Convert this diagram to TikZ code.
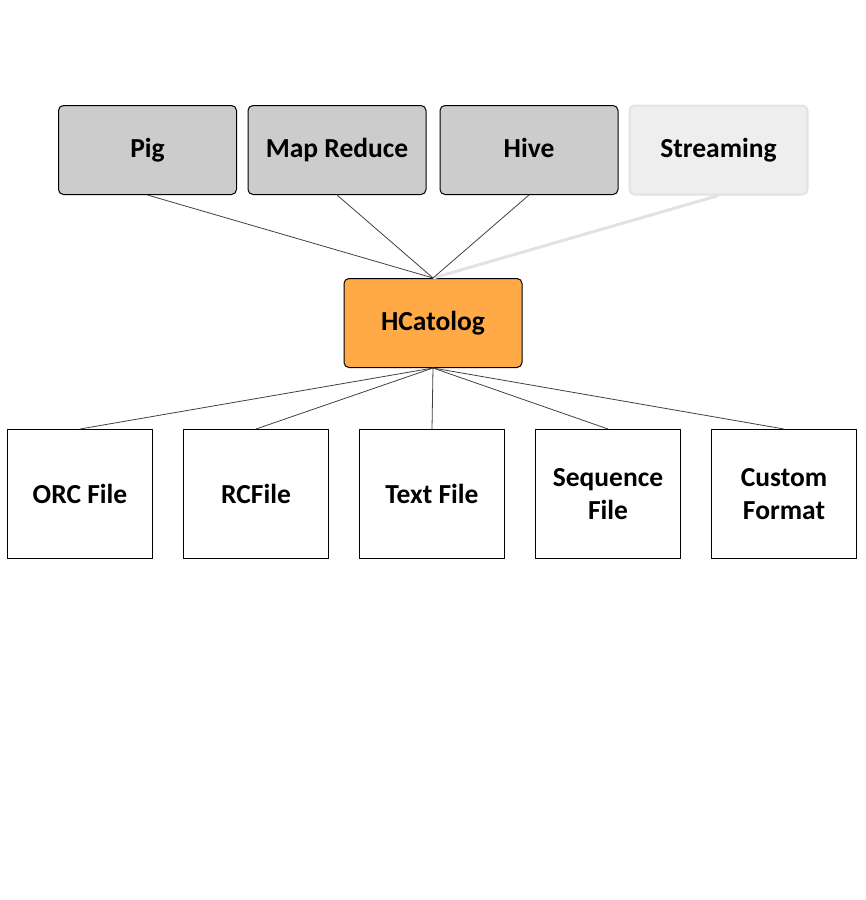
\documentclass[tikz,border=0pt]{standalone}
\usepackage{fontspec}
\setmainfont{Carlito}
\definecolor{toolblock}{RGB}{204,204,204}
\definecolor{fadeblock}{RGB}{238,238,238}
\definecolor{fadeedge}{RGB}{226,226,226}
\definecolor{hcatblock}{RGB}{255,169,71}

\begin{document}
\begin{tikzpicture}[x=1pt, y=-1pt,
		toolbox/.style={draw=black, fill=toolblock, rounded corners=5pt, line width=1pt,
			minimum width=178pt, minimum height=89pt, text height=20pt, text depth=5.5pt,
			font=\bfseries\fontsize{27.5}{33}\selectfont},
		fadebox/.style={toolbox, draw=fadeedge, fill=fadeblock, line width=2pt},
		hcatbox/.style={toolbox, fill=hcatblock},
		filebox/.style={draw=black, fill=white, line width=1pt, minimum width=145pt, minimum height=129pt,
			align=center, font=\bfseries\fontsize{27.5}{33}\selectfont},
		link/.style={draw=black!75, line width=0.8pt},
		fadelink/.style={draw=fadeedge, line width=3pt}]
		\useasboundingbox (0,0) rectangle (866,900);
		
		% tools on top
		\node[toolbox] (pig) at (147.5,150) {Pig};
		\node[toolbox] (mapred) at (337,150) {Map Reduce};
		\node[toolbox] (hive) at (529,150) {Hive};
		\node[fadebox] (stream) at (718.5,150) {Streaming};
		
		% HCatalog in the middle
		\node[hcatbox] (hcat) at (433,323) {HCatolog};
		
		% storage formats
		\node[filebox] (orc) at (80,494) {ORC File};
		\node[filebox] (rc) at (256,494) {RCFile};
		\node[filebox] (text) at (432,494) {Text File};
		\node[filebox] (seq) at (608,494) {Sequence\\File};
		\node[filebox] (custom) at (784,494) {Custom\\Format};
		
		\draw[fadelink] (stream.south) -- (hcat.north);
		\foreach \t in {pig, mapred, hive}
			\draw[link] (\t.south) -- (hcat.north);
		\foreach \f in {orc, rc, text, seq, custom}
			\draw[link] (hcat.south) -- (\f.north);
	\end{tikzpicture}
\end{document}
